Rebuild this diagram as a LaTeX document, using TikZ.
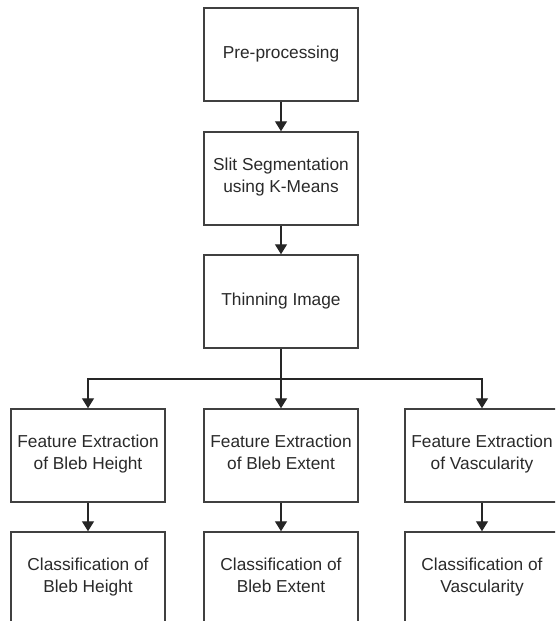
\documentclass[tikz,border=0pt]{standalone}
\usepackage{fontspec}
\setmainfont{Liberation Sans}
\usetikzlibrary{arrows.meta}
\definecolor{boxline}{HTML}{404040}
\definecolor{txt}{HTML}{2A2A2A}
\begin{document}
\begin{tikzpicture}[x=1pt,y=-1pt,
  flowbox/.style={draw=boxline,line width=1.5pt,minimum width=154pt,minimum height=93pt,
    inner sep=0pt,align=center,text=txt,font=\fontsize{17.3}{21.5}\selectfont,
    execute at begin node=\strut,execute at end node=\strut},
  arr/.style={draw=black!85,line width=1.4pt,-{Triangle[length=10pt,width=12pt]}}]
\useasboundingbox (0,0) rectangle (555,621);
\clip (0,0) rectangle (555,621);
\fill[white] (0,0) rectangle (555,621);
\node[flowbox] (pre) at (281,54.5) {Pre-processing};
\node[flowbox] (slit) at (281,178.5) {Slit Segmentation\\using K-Means};
\node[flowbox] (thin) at (281,301.5) {Thinning Image};
\node[flowbox] (f1) at (88,455.5) {Feature Extraction\\of Bleb Height};
\node[flowbox] (f2) at (281,455.5) {Feature Extraction\\of Bleb Extent};
\node[flowbox] (f3) at (482,455.5) {Feature Extraction\\of Vascularity};
\node[flowbox] (c1) at (88,578.5) {Classification of\\Bleb Height};
\node[flowbox] (c2) at (281,578.5) {Classification of\\Bleb Extent};
\node[flowbox] (c3) at (482,578.5) {Classification of\\Vascularity};
\coordinate (j) at (281,379);
\draw[arr] (pre) -- (slit);
\draw[arr] (slit) -- (thin);
\draw[arr] (thin) -- (f2);
\draw[arr] (j) -| (f1);
\draw[arr] (j) -| (f3);
\draw[arr] (f1) -- (c1);
\draw[arr] (f2) -- (c2);
\draw[arr] (f3) -- (c3);
\end{tikzpicture}
\end{document}
